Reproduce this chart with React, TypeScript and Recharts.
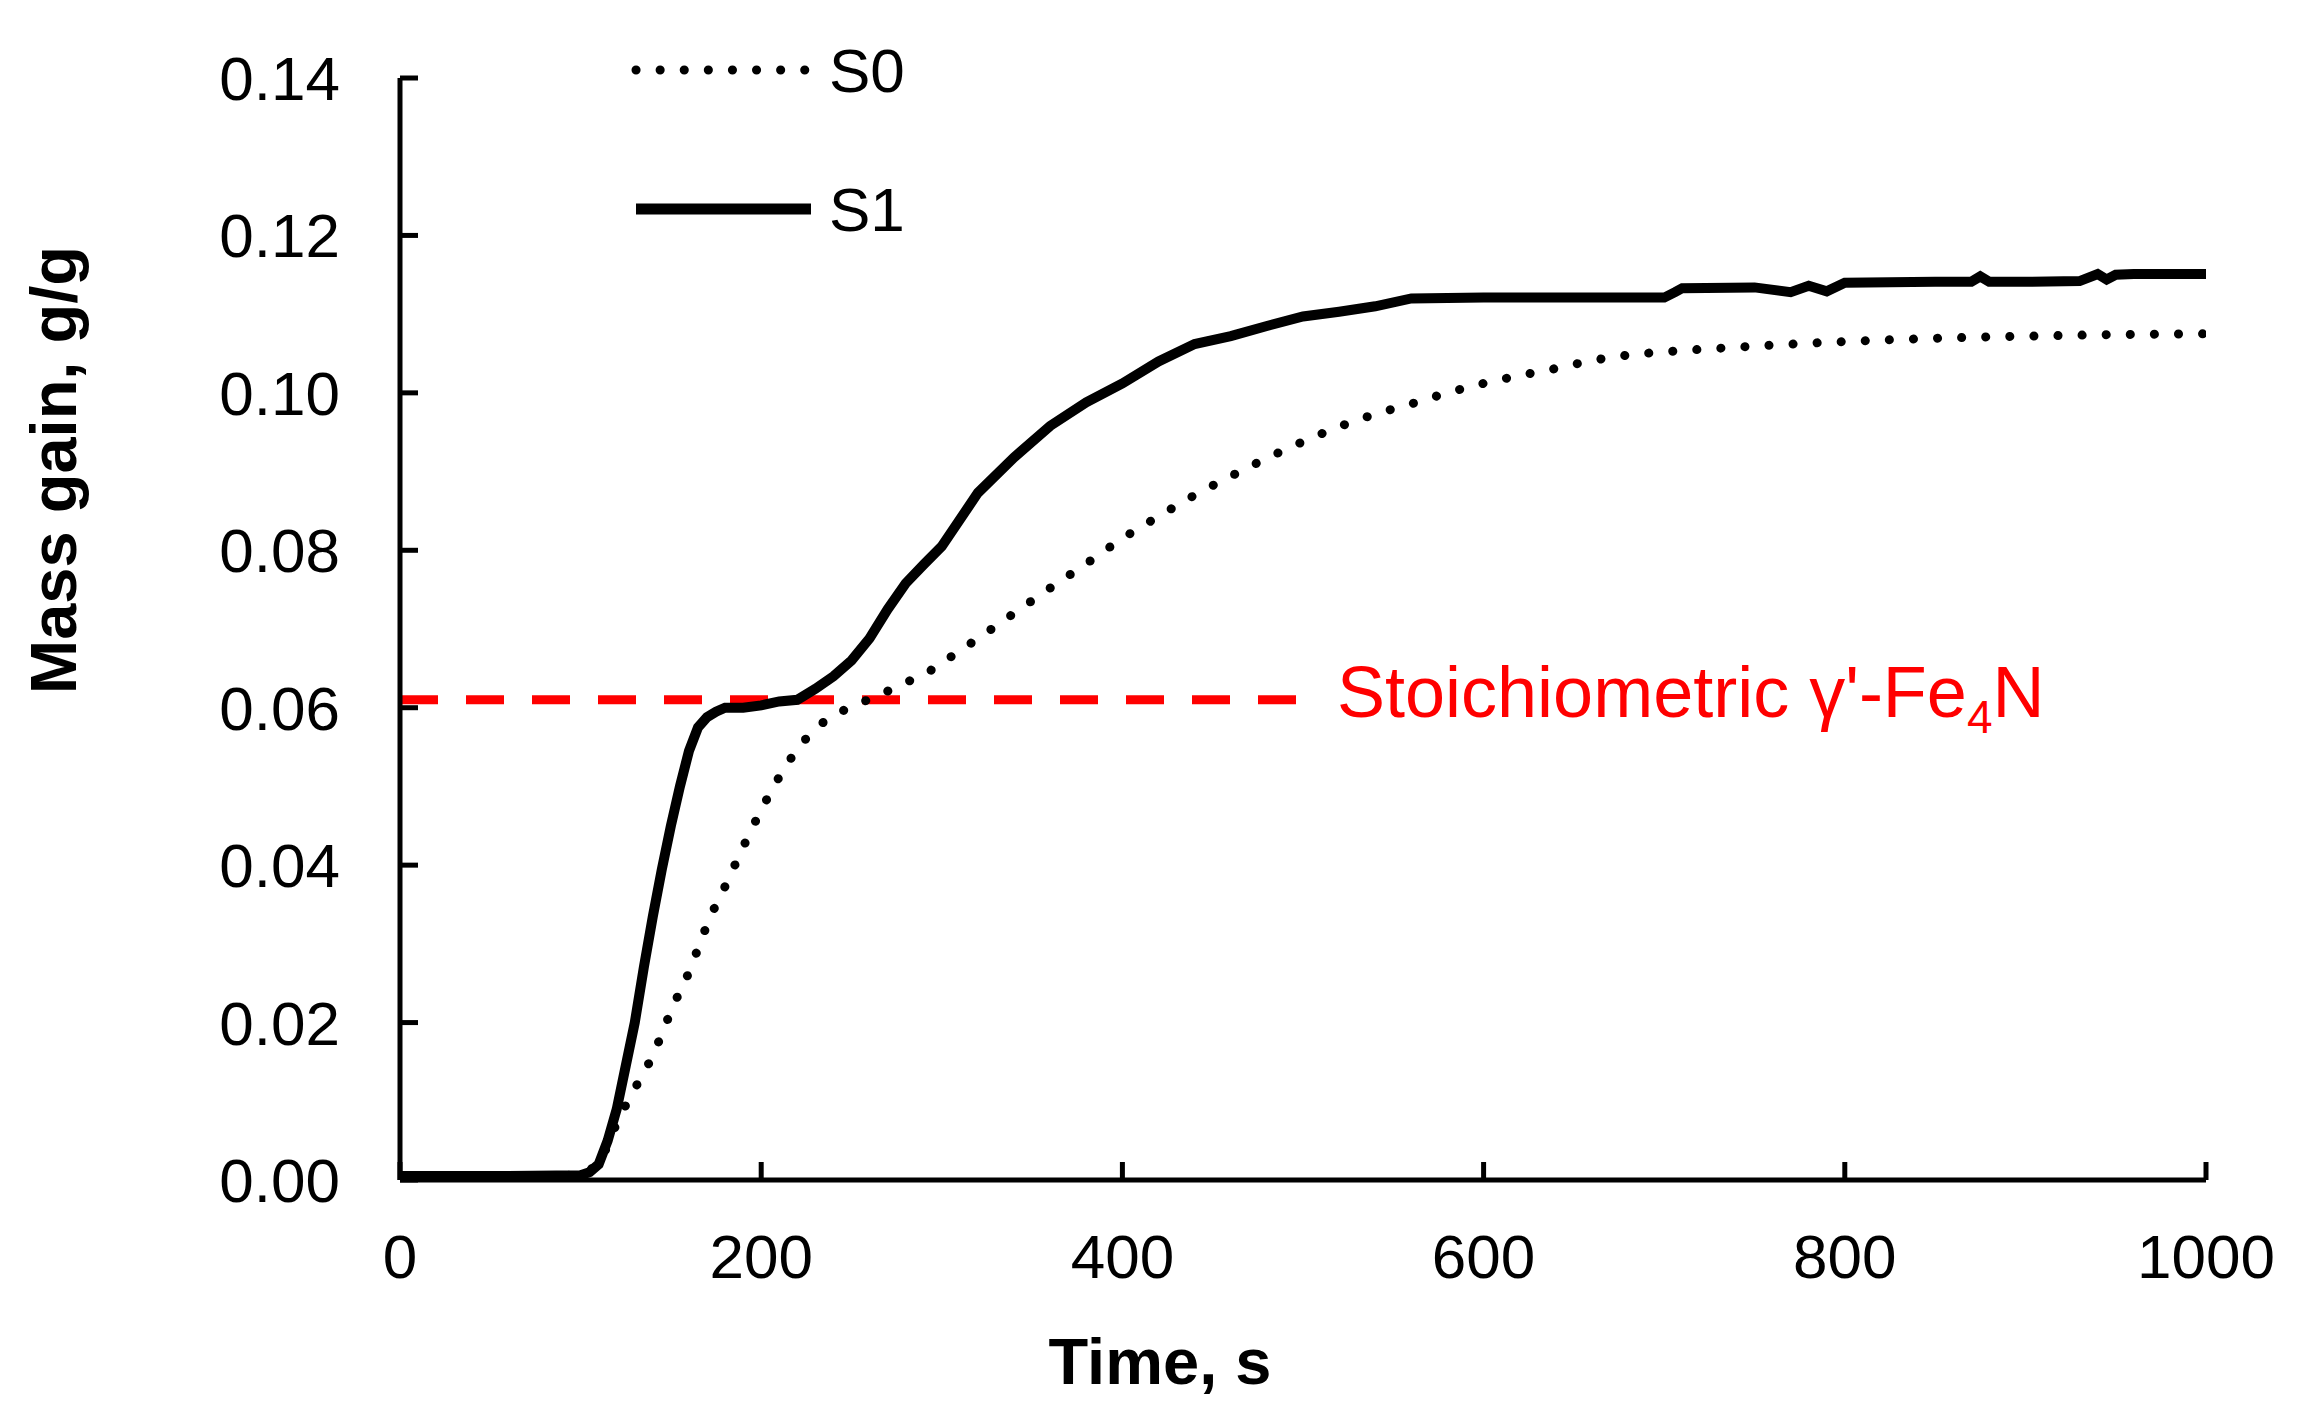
import { LineChart, Line, XAxis, YAxis, ReferenceLine, Legend } from 'recharts'

const FONT = '"Liberation Sans", Arial, sans-serif'

// S0 (dotted) - mass gain vs time
const s0Time = [0, 50, 90, 100, 110, 115, 120, 125, 130, 135, 140, 145, 150, 155, 160, 165, 170, 175, 180, 185, 190, 200, 210, 220, 230, 240, 250, 260, 270, 280, 290, 300, 320, 340, 360, 380, 400, 420, 440, 460, 480, 500, 520, 540, 560, 580, 600, 620, 640, 660, 680, 700, 740, 780, 820, 860, 900, 950, 1000]
const s0Mass = [0.0003, 0.0003, 0.0005, 0.001, 0.002, 0.0045, 0.0072, 0.0095, 0.0116, 0.0137, 0.0158, 0.0186, 0.0214, 0.024, 0.0264, 0.0294, 0.0324, 0.035, 0.0373, 0.0398, 0.0423, 0.047, 0.0512, 0.0547, 0.0573, 0.059, 0.0601, 0.0611, 0.0621, 0.0632, 0.0642, 0.0657, 0.0688, 0.072, 0.0752, 0.0783, 0.0815, 0.0843, 0.087, 0.0894, 0.0917, 0.0938, 0.0957, 0.0973, 0.0986, 0.1, 0.1012, 0.1022, 0.1031, 0.1041, 0.1048, 0.1052, 0.1058, 0.1063, 0.1067, 0.107, 0.1072, 0.1074, 0.1075]

// S1 (solid)
const s1Time = [0, 50, 100, 105, 110, 115, 120, 125, 130, 135, 140, 145, 150, 155, 160, 165, 170, 175, 180, 190, 200, 210, 220, 230, 240, 250, 260, 270, 280, 290, 300, 320, 340, 360, 380, 400, 420, 440, 460, 480, 500, 520, 540, 560, 600, 650, 700, 706, 710, 750, 770, 780, 790, 800, 850, 870, 875, 880, 900, 930, 940, 945, 950, 960, 1000]
const s1Mass = [0.0005, 0.0005, 0.0006, 0.001, 0.002, 0.005, 0.009, 0.0145, 0.02, 0.027, 0.0335, 0.0395, 0.045, 0.05, 0.0545, 0.0575, 0.0588, 0.0595, 0.06, 0.06, 0.0603, 0.0608, 0.061, 0.0624, 0.064, 0.066, 0.0688, 0.0725, 0.0758, 0.0782, 0.0805, 0.0873, 0.0918, 0.0958, 0.0988, 0.1012, 0.104, 0.1062, 0.1072, 0.1085, 0.1097, 0.1103, 0.111, 0.112, 0.1121, 0.1121, 0.1121, 0.1128, 0.1133, 0.1134, 0.1128, 0.1136, 0.1129, 0.114, 0.1141, 0.1141, 0.1148, 0.1141, 0.1141, 0.1142, 0.1151, 0.1144, 0.115, 0.1151, 0.1151]

const xTicks = [0, 200, 400, 600, 800, 1000]
const yTicks = [0, 0.02, 0.04, 0.06, 0.08, 0.1, 0.12, 0.14]

const stoichMass = 0.061
const stoichFrom = 0
const stoichTo = 500

const s0Data = s0Time.map((t, i) => ({ t, m: s0Mass[i] }))
const s1Data = s1Time.map((t, i) => ({ t, m: s1Mass[i] }))

const S0_STYLE = { stroke: '#000', strokeWidth: 9, strokeDasharray: '0.1 24', strokeLinecap: 'round' as const }
const S1_STYLE = { stroke: '#000', strokeWidth: 10, strokeLinecap: 'butt' as const }
const legendStyles: Record<string, any> = { S0: S0_STYLE, S1: { ...S1_STYLE, strokeWidth: 11 } }

function LegendBox({ payload }: any) {
  return (
    <svg width={320} height={260} style={{ display: 'block' }}>
      {(payload || []).map((p: any, i: number) => {
        const y = 70 + i * 139
        return (
          <g key={p.value}>
            <line x1={16} x2={i === 0 ? 188 : 191} y1={y} y2={y} {...legendStyles[p.value]} />
            <text x={209} y={y + 22} fontSize={62} fontFamily={FONT} fill="#000">{p.value}</text>
          </g>
        )
      })}
    </svg>
  )
}

function StoichLabel({ viewBox }: any) {
  const { x, y, width } = viewBox
  return (
    <text x={x + width + 34} y={y + 17} fontSize={72} fontFamily={FONT} fill="#FF0000">
      Stoichiometric γ'-Fe
      <tspan fontSize={46} dy={16}>4</tspan>
      <tspan dy={-16}>N</tspan>
    </text>
  )
}

function YTitle({ viewBox }: any) {
  const cx = viewBox.x + 76
  const cy = viewBox.y + 392
  return (
    <text x={0} y={0} transform={`translate(${cx}, ${cy}) rotate(-90)`} textAnchor="middle" fontSize={65} fontWeight="bold" fontFamily={FONT} fill="#000">
      Mass gain, g/g
    </text>
  )
}

function XTitle({ viewBox }: any) {
  return (
    <text x={viewBox.x + 760} y={viewBox.y + 204} textAnchor="middle" fontSize={65} fontWeight="bold" fontFamily={FONT} fill="#000">
      Time, s
    </text>
  )
}

export default function App() {
  const axisStroke = { stroke: '#000', strokeWidth: 5 }
  const tickFont = { fill: '#000', fontSize: 62, fontFamily: FONT }
  return (
    <div style={{ width: 2309, height: 1416, background: '#fff' }}>
      <style>{'body{margin:0;background:#fff}'}</style>
      <LineChart width={2309} height={1416} margin={{ top: 78, right: 103, left: 0, bottom: 0 }}>
        <XAxis
          type="number"
          dataKey="t"
          domain={[0, 1000]}
          ticks={xTicks}
          allowDataOverflow
          height={236}
          axisLine={axisStroke}
          tickLine={axisStroke}
          tickSize={-18}
          tickMargin={72}
          tick={tickFont}
          label={<XTitle />}
        />
        <YAxis
          type="number"
          domain={[0, 0.14]}
          ticks={yTicks}
          allowDataOverflow
          width={400}
          axisLine={axisStroke}
          tickLine={axisStroke}
          tickSize={-18}
          tickMargin={78}
          tick={tickFont}
          tickFormatter={(v: number) => v.toFixed(2)}
          label={<YTitle />}
        />
        <ReferenceLine
          segment={[{ x: stoichFrom, y: stoichMass }, { x: stoichTo, y: stoichMass }]}
          stroke="#FF0000"
          strokeWidth={9}
          strokeDasharray="38 28"
          label={<StoichLabel />}
        />
        <Line data={s0Data} dataKey="m" name="S0" type="monotone" dot={false} activeDot={false} isAnimationActive={false} {...S0_STYLE} />
        <Line data={s1Data} dataKey="m" name="S1" type="linear" dot={false} activeDot={false} isAnimationActive={false} {...S1_STYLE} />
        <Legend
          layout="vertical"
          align="center"
          verticalAlign="middle"
          wrapperStyle={{ left: 620, top: 0, width: 320, height: 260 }}
          content={<LegendBox />}
        />
      </LineChart>
    </div>
  )
}
